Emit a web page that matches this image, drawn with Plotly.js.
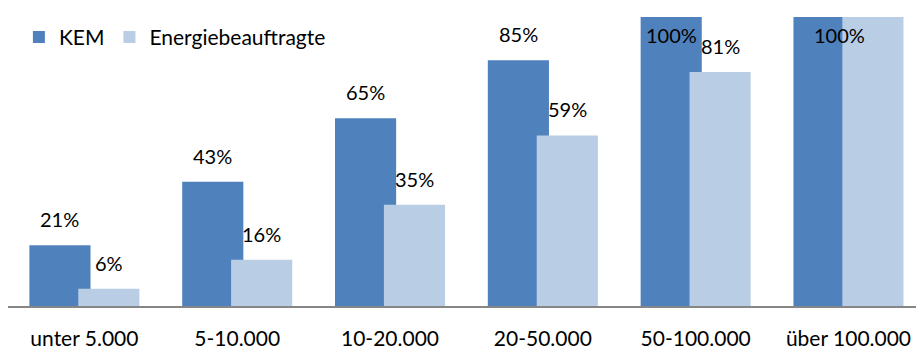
<!DOCTYPE html>
<html><head><meta charset="utf-8">
<script src="https://cdn.plot.ly/plotly-3.0.1.min.js"></script>
<style>html,body{margin:0;padding:0;background:#fff}#c{width:916px;height:349px}</style>
</head><body><div id="c"></div>
<script>
const categories = ["unter 5.000","5-10.000","10-20.000","20-50.000","50-100.000","über 100.000"];
const kem = [21, 43, 65, 85, 100, 100];
const energie = [6, 16, 35, 59, 81, 100];
const seriesNames = ["KEM", "Energiebeauftragte"];

const W = 0.40, offK = -0.36, offE = -0.04;
const xs = categories.map((_, i) => i);
const font = {family: "Lato, 'Open Sans', sans-serif", size: 20, color: "#000"};
const bigFont = {family: "Lato, 'Open Sans', sans-serif", size: 21, color: "#000"};

const traces = [
  {type: "bar", name: seriesNames[0], x: xs, y: kem, width: W, offset: offK,
   marker: {color: "#4F81BD"}, hoverinfo: "skip"},
  {type: "bar", name: seriesNames[1], x: xs, y: energie, width: W, offset: offE,
   marker: {color: "#B9CDE5"}, hoverinfo: "skip"}
];

const annotations = [];
xs.forEach(i => {
  if (kem[i] === 100 && energie[i] === 100) {
    annotations.push({x: i - 0.06, y: 100, text: "100%", showarrow: false, yshift: -18, font});
    return;
  }
  [[kem[i], offK], [energie[i], offE]].forEach(([v, o]) => {
    annotations.push({x: i + o + W / 2, y: v, text: v + "%", showarrow: false,
      yshift: v >= 95 ? -18 : 26, font});
  });
});

const layout = {
  width: 916, height: 349,
  margin: {l: 8, r: 0, t: 17, b: 43, autoexpand: false},
  paper_bgcolor: "#fff", plot_bgcolor: "#fff",
  barmode: "overlay",
  showlegend: true,
  legend: {orientation: "h", x: 0.012, y: 0.93, xanchor: "left", yanchor: "middle",
    font: bigFont, bgcolor: "rgba(0,0,0,0)", itemwidth: 30, tracegroupgap: 0},
  xaxis: {range: [-0.5, 5.442], tickvals: xs, ticktext: categories, tickfont: bigFont,
    showline: true, linecolor: "#868686", linewidth: 2, ticks: "", showgrid: false,
    zeroline: false, ticklabelstandoff: 13, fixedrange: true, automargin: false},
  yaxis: {range: [0, 100], visible: false, showgrid: false, zeroline: false, fixedrange: true, automargin: false},
  annotations,
  font
};
Plotly.newPlot("c", traces, layout, {displayModeBar: false, staticPlot: true});
</script></body></html>
